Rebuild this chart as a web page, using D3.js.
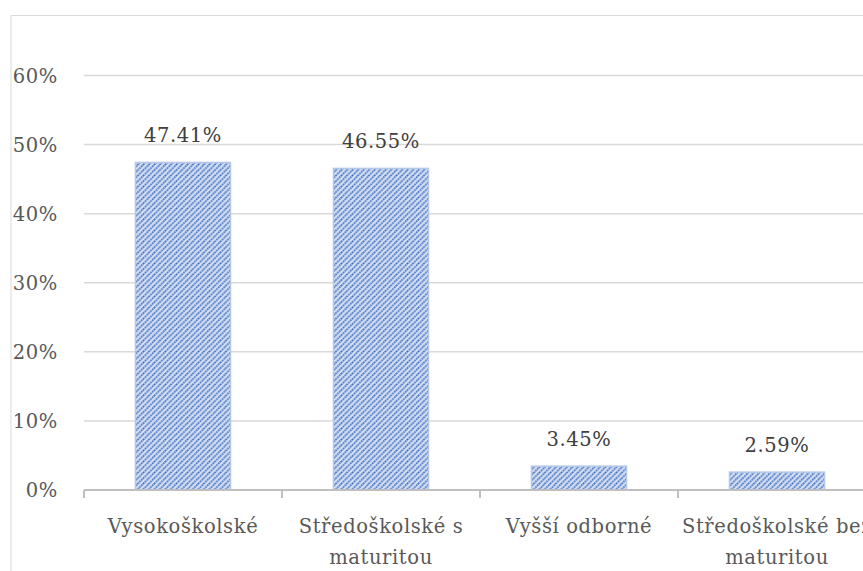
<!DOCTYPE html>
<html>
<head>
<meta charset="utf-8">
<script src="https://cdn.jsdelivr.net/npm/d3@7"></script>
<style>
  body { margin: 0; background: #fff; }
  svg { display: block; }
</style>
</head>
<body>
<div id="chart"></div>
<script>
// data
var categories = ["Vysokoškolské", "Středoškolské s maturitou", "Vyšší odborné", "Středoškolské bez maturitou"];
var values = [47.41, 46.55, 3.45, 2.59];
var yTicks = [0, 10, 20, 30, 40, 50, 60];

var width = 863, height = 571;
var font = "'DejaVu Serif', serif";
var fs = "19.5px", ls = "0.6px";
var left = 84, bandW = 198, y0 = 490, y60 = 75.5;

var svg = d3.select("#chart").append("svg")
    .attr("width", width)
    .attr("height", height);

// chart area border (cut off on right & bottom)
svg.append("path")
    .attr("d", "M11," + height + "V15.5H" + width)
    .attr("fill", "none")
    .attr("stroke", "#d9d9d9")
    .attr("stroke-width", 1);

var defs = svg.append("defs");
var pat = defs.append("pattern")
    .attr("id", "hatch")
    .attr("patternUnits", "userSpaceOnUse")
    .attr("width", 5.5).attr("height", 5.5);
pat.append("rect").attr("width", 5.5).attr("height", 5.5).attr("fill", "#d6e0f3");
pat.append("path")
    .attr("d", "M-1,1 l2,-2 M0,5.5 l5.5,-5.5 M4.5,6.5 l2,-2")
    .attr("stroke", "#4472c4")
    .attr("stroke-width", 1.7)
    .attr("stroke-dasharray", "1.8,0.8");

var x = d3.scaleBand()
    .domain(categories)
    .range([left, left + bandW * categories.length])
    .paddingInner(0.52)
    .paddingOuter(0.26);

var y = d3.scaleLinear().domain([0, 60]).range([y0, y60]);

// gridlines
svg.append("g").selectAll("line")
    .data(yTicks.filter(function (d) { return d > 0; }))
    .enter().append("line")
    .attr("x1", left).attr("x2", width)
    .attr("y1", function (d) { return y(d); })
    .attr("y2", function (d) { return y(d); })
    .attr("stroke", "#d9d9d9")
    .attr("stroke-width", 1.5);

// y labels
svg.append("g").selectAll("text")
    .data(yTicks)
    .enter().append("text")
    .attr("x", 58)
    .attr("y", function (d) { return y(d); })
    .attr("dy", "0.36em")
    .attr("text-anchor", "end")
    .attr("font-family", font)
    .attr("font-size", fs)
    .attr("letter-spacing", ls)
    .attr("fill", "#595959")
    .text(function (d) { return d + "%"; });

// bars
svg.append("g").selectAll("rect")
    .data(values)
    .enter().append("rect")
    .attr("x", function (d, i) { return x(categories[i]); })
    .attr("y", function (d) { return y(d); })
    .attr("width", x.bandwidth())
    .attr("height", function (d) { return y0 - y(d); })
    .attr("fill", "url(#hatch)")
    .attr("stroke", "#b4c7e7")
    .attr("stroke-width", 1.5);

// value labels
svg.append("g").selectAll("text")
    .data(values)
    .enter().append("text")
    .attr("x", function (d, i) { return x(categories[i]) + x.bandwidth() / 2; })
    .attr("y", function (d) { return y(d) - 20; })
    .attr("text-anchor", "middle")
    .attr("font-family", font)
    .attr("font-size", fs)
    .attr("letter-spacing", ls)
    .attr("fill", "#404040")
    .text(function (d) { return d.toFixed(2) + "%"; });

// x axis
var axis = svg.append("g");
axis.append("line")
    .attr("x1", left).attr("x2", width)
    .attr("y1", y0).attr("y2", y0)
    .attr("stroke", "#bfbfbf").attr("stroke-width", 2);
axis.selectAll("line.tick")
    .data(d3.range(categories.length + 1))
    .enter().append("line")
    .attr("class", "tick")
    .attr("x1", function (i) { return left + i * bandW; })
    .attr("x2", function (i) { return left + i * bandW; })
    .attr("y1", y0).attr("y2", y0 + 8)
    .attr("stroke", "#bfbfbf").attr("stroke-width", 2);

// category labels with wrapping (last one runs off the edge, as in the source)
var catText = axis.selectAll("text.cat")
    .data(categories)
    .enter().append("text")
    .attr("class", "cat")
    .attr("text-anchor", "middle")
    .attr("font-family", font)
    .attr("font-size", fs)
    .attr("letter-spacing", ls)
    .attr("fill", "#595959");

catText.each(function (d) {
    var t = d3.select(this);
    var cx = x(d) + x.bandwidth() / 2;
    var words = d.split(" "), lines = [], line = [];
    words.forEach(function (w) {
        line.push(w);
        var tmp = t.append("tspan").text(line.join(" "));
        if (tmp.node().getComputedTextLength() > bandW && line.length > 1) {
            line.pop();
            lines.push(line.join(" "));
            line = [w];
        }
        tmp.remove();
    });
    lines.push(line.join(" "));
    lines.forEach(function (l, j) {
        t.append("tspan").attr("x", cx).attr("y", 533 + j * 31).text(l);
    });
});
</script>
</body>
</html>
